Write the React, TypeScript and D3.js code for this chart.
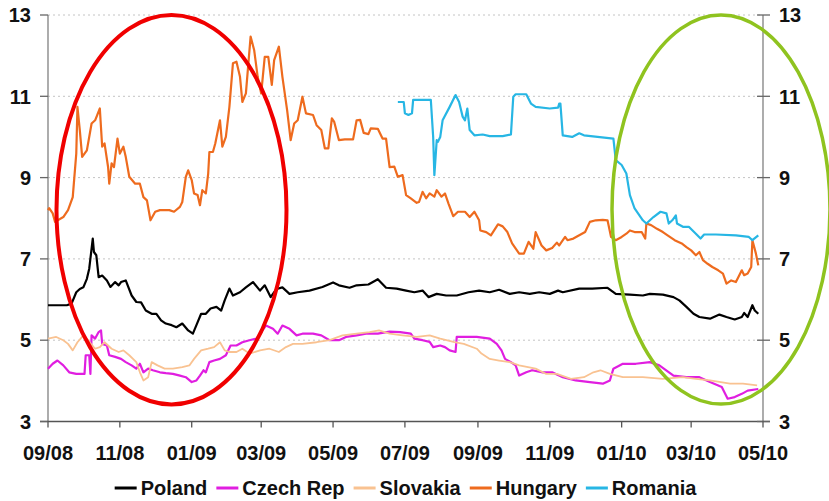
import React from "react";
import * as d3 from "d3";

type Pt = [string, number];

const tickDates: string[] = ["2008-09-01", "2008-11-01", "2009-01-01", "2009-03-01", "2009-05-01", "2009-07-01", "2009-09-01", "2009-11-01", "2010-01-01", "2010-03-01", "2010-05-01"];
const yTicks: number[] = [3, 5, 7, 9, 11, 13];
const gridValues: number[] = [5, 7, 9, 11, 13];

const poland: Pt[] = [
  ["2008-09-01", 5.86], ["2008-09-17", 5.86], ["2008-09-21", 5.9], ["2008-09-25", 6.18], ["2008-09-28", 6.26],
  ["2008-10-01", 6.3], ["2008-10-04", 6.51], ["2008-10-06", 6.76], ["2008-10-09", 7.5], ["2008-10-10", 7.17],
  ["2008-10-12", 7.09], ["2008-10-14", 6.55], ["2008-10-17", 6.59], ["2008-10-21", 6.47], ["2008-10-24", 6.31],
  ["2008-10-28", 6.43], ["2008-10-31", 6.35], ["2008-11-02", 6.43], ["2008-11-06", 6.47], ["2008-11-11", 6.1],
  ["2008-11-15", 5.94], ["2008-11-19", 5.93], ["2008-11-23", 5.73], ["2008-11-28", 5.65], ["2008-12-02", 5.65],
  ["2008-12-06", 5.49], ["2008-12-10", 5.41], ["2008-12-15", 5.37], ["2008-12-19", 5.32], ["2008-12-24", 5.41],
  ["2008-12-29", 5.24], ["2009-01-02", 5.16], ["2009-01-05", 5.37], ["2009-01-09", 5.65], ["2009-01-13", 5.65],
  ["2009-01-17", 5.78], ["2009-01-22", 5.82], ["2009-01-26", 5.73], ["2009-01-29", 5.98], ["2009-02-02", 6.27],
  ["2009-02-05", 6.1], ["2009-02-11", 6.18], ["2009-02-16", 6.3], ["2009-02-22", 6.43], ["2009-02-28", 6.22],
  ["2009-03-04", 6.35], ["2009-03-09", 6.06], ["2009-03-14", 6.26], ["2009-03-19", 6.3], ["2009-03-25", 6.14],
  ["2009-04-01", 6.18], ["2009-04-11", 6.22], ["2009-04-22", 6.31], ["2009-05-01", 6.42], ["2009-05-06", 6.35],
  ["2009-05-15", 6.29], ["2009-05-21", 6.35], ["2009-05-31", 6.37], ["2009-06-08", 6.5], ["2009-06-15", 6.29],
  ["2009-06-24", 6.27], ["2009-07-02", 6.22], ["2009-07-09", 6.18], ["2009-07-16", 6.22], ["2009-07-21", 6.06],
  ["2009-07-28", 6.14], ["2009-08-05", 6.1], ["2009-08-14", 6.1], ["2009-08-24", 6.18], ["2009-09-02", 6.22],
  ["2009-09-11", 6.18], ["2009-09-19", 6.24], ["2009-09-28", 6.14], ["2009-10-06", 6.18], ["2009-10-15", 6.14],
  ["2009-10-23", 6.18], ["2009-11-01", 6.14], ["2009-11-08", 6.22], ["2009-11-12", 6.18], ["2009-11-26", 6.27],
  ["2009-12-07", 6.27], ["2009-12-20", 6.29], ["2009-12-27", 6.14], ["2010-01-08", 6.12], ["2010-01-19", 6.1],
  ["2010-01-25", 6.14], ["2010-02-05", 6.12], ["2010-02-14", 6.06], ["2010-02-19", 5.98], ["2010-02-25", 5.82],
  ["2010-03-03", 5.65], ["2010-03-08", 5.57], ["2010-03-17", 5.53], ["2010-03-25", 5.63], ["2010-03-31", 5.57],
  ["2010-04-07", 5.51], ["2010-04-13", 5.57], ["2010-04-15", 5.67], ["2010-04-18", 5.57], ["2010-04-22", 5.86],
  ["2010-04-24", 5.73], ["2010-04-27", 5.65],
];

const czech: Pt[] = [
  ["2008-09-01", 4.3], ["2008-09-05", 4.42], ["2008-09-09", 4.5], ["2008-09-14", 4.38], ["2008-09-19", 4.21],
  ["2008-09-25", 4.17], ["2008-10-02", 4.17], ["2008-10-03", 4.63], ["2008-10-06", 4.63], ["2008-10-07", 4.17],
  ["2008-10-08", 5.12], ["2008-10-11", 5.04], ["2008-10-14", 5.2], ["2008-10-16", 5.24], ["2008-10-17", 4.91],
  ["2008-10-21", 4.87], ["2008-10-23", 4.63], ["2008-10-28", 4.59], ["2008-11-02", 4.54], ["2008-11-06", 4.46],
  ["2008-11-11", 4.38], ["2008-11-15", 4.3], ["2008-11-18", 4.42], ["2008-11-21", 4.21], ["2008-11-25", 4.3],
  ["2008-11-29", 4.26], ["2008-12-05", 4.21], ["2008-12-10", 4.19], ["2008-12-16", 4.17], ["2008-12-22", 4.13],
  ["2008-12-27", 4.09], ["2009-01-01", 3.97], ["2009-01-05", 4.01], ["2009-01-08", 4.13], ["2009-01-11", 4.26],
  ["2009-01-13", 4.21], ["2009-01-16", 4.46], ["2009-01-20", 4.5], ["2009-01-25", 4.54], ["2009-01-30", 4.63],
  ["2009-02-03", 4.87], ["2009-02-08", 4.87], ["2009-02-13", 4.95], ["2009-02-19", 5.0], ["2009-02-25", 5.04],
  ["2009-03-01", 5.2], ["2009-03-05", 5.36], ["2009-03-11", 5.28], ["2009-03-15", 5.16], ["2009-03-19", 5.36],
  ["2009-03-25", 5.28], ["2009-03-31", 5.12], ["2009-04-05", 5.16], ["2009-04-14", 5.16], ["2009-04-21", 5.12],
  ["2009-04-28", 5.0], ["2009-05-06", 5.0], ["2009-05-12", 5.08], ["2009-05-21", 5.12], ["2009-05-29", 5.16],
  ["2009-06-08", 5.16], ["2009-06-18", 5.21], ["2009-06-27", 5.2], ["2009-07-06", 5.16], ["2009-07-09", 5.04],
  ["2009-07-16", 5.0], ["2009-07-22", 4.96], ["2009-07-25", 4.83], ["2009-07-31", 4.87], ["2009-08-04", 4.83],
  ["2009-08-08", 4.75], ["2009-08-13", 4.71], ["2009-08-14", 5.08], ["2009-08-31", 5.08], ["2009-09-11", 5.04],
  ["2009-09-17", 4.91], ["2009-09-21", 4.75], ["2009-09-24", 4.54], ["2009-09-29", 4.46], ["2009-10-03", 4.38],
  ["2009-10-06", 4.13], ["2009-10-12", 4.21], ["2009-10-17", 4.26], ["2009-10-26", 4.21], ["2009-11-03", 4.21],
  ["2009-11-12", 4.09], ["2009-11-23", 4.01], ["2009-12-05", 3.97], ["2009-12-16", 3.93], ["2009-12-22", 4.01],
  ["2009-12-25", 4.3], ["2010-01-02", 4.42], ["2010-01-13", 4.42], ["2010-01-25", 4.46], ["2010-02-02", 4.38],
  ["2010-02-14", 4.13], ["2010-02-25", 4.09], ["2010-03-08", 4.09], ["2010-03-17", 3.97], ["2010-03-27", 3.85],
  ["2010-04-01", 3.56], ["2010-04-07", 3.6], ["2010-04-13", 3.68], ["2010-04-18", 3.76], ["2010-04-27", 3.8],
];

const slovakia: Pt[] = [
  ["2008-09-01", 5.04], ["2008-09-08", 5.08], ["2008-09-14", 5.0], ["2008-09-18", 4.91], ["2008-09-22", 4.75],
  ["2008-09-26", 4.95], ["2008-10-01", 5.12], ["2008-10-05", 5.0], ["2008-10-11", 4.79], ["2008-10-15", 4.83],
  ["2008-10-19", 4.95], ["2008-10-25", 4.79], ["2008-10-31", 4.71], ["2008-11-04", 4.75], ["2008-11-09", 4.63],
  ["2008-11-15", 4.46], ["2008-11-18", 4.21], ["2008-11-21", 4.01], ["2008-11-25", 4.09], ["2008-11-28", 4.46],
  ["2008-12-03", 4.38], ["2008-12-09", 4.3], ["2008-12-16", 4.3], ["2008-12-24", 4.34], ["2008-12-30", 4.38],
  ["2009-01-03", 4.54], ["2009-01-09", 4.75], ["2009-01-15", 4.79], ["2009-01-20", 4.83], ["2009-01-25", 4.95],
  ["2009-01-29", 4.75], ["2009-02-02", 4.71], ["2009-02-08", 4.71], ["2009-02-13", 4.79], ["2009-02-19", 4.67],
  ["2009-02-28", 4.75], ["2009-03-08", 4.79], ["2009-03-16", 4.71], ["2009-03-22", 4.83], ["2009-03-28", 4.91],
  ["2009-04-05", 4.91], ["2009-04-17", 4.95], ["2009-04-28", 5.0], ["2009-05-09", 5.12], ["2009-05-21", 5.16],
  ["2009-06-01", 5.2], ["2009-06-09", 5.24], ["2009-06-18", 5.16], ["2009-06-29", 5.12], ["2009-07-11", 5.08],
  ["2009-07-22", 5.12], ["2009-07-31", 5.04], ["2009-08-12", 4.95], ["2009-08-20", 4.91], ["2009-08-31", 4.79],
  ["2009-09-04", 4.67], ["2009-09-11", 4.54], ["2009-09-19", 4.5], ["2009-09-28", 4.46], ["2009-10-06", 4.38],
  ["2009-10-20", 4.3], ["2009-10-29", 4.17], ["2009-11-07", 4.17], ["2009-11-19", 4.05], ["2009-11-30", 4.09],
  ["2009-12-08", 4.21], ["2009-12-14", 4.26], ["2009-12-22", 4.17], ["2010-01-02", 4.09], ["2010-01-19", 4.09],
  ["2010-02-05", 4.05], ["2010-02-22", 4.09], ["2010-03-05", 4.05], ["2010-03-17", 4.01], ["2010-04-03", 3.93],
  ["2010-04-14", 3.93], ["2010-04-26", 3.89],
];

const hungary: Pt[] = [
  ["2008-09-01", 8.2], ["2008-09-02", 8.25], ["2008-09-05", 8.12], ["2008-09-07", 7.91], ["2008-09-14", 8.03],
  ["2008-09-18", 8.2], ["2008-09-22", 8.52], ["2008-09-25", 9.59], ["2008-09-26", 10.74], ["2008-09-28", 10.17],
  ["2008-09-30", 9.51], ["2008-10-04", 9.67], ["2008-10-08", 10.33], ["2008-10-11", 10.41], ["2008-10-15", 10.7],
  ["2008-10-17", 9.76], ["2008-10-19", 9.84], ["2008-10-22", 9.26], ["2008-10-23", 8.85], ["2008-10-25", 9.35],
  ["2008-10-27", 9.26], ["2008-10-30", 9.96], ["2008-11-01", 9.59], ["2008-11-04", 9.76], ["2008-11-06", 9.51],
  ["2008-11-09", 9.02], ["2008-11-14", 8.85], ["2008-11-18", 8.85], ["2008-11-21", 8.52], ["2008-11-24", 8.44],
  ["2008-11-27", 7.95], ["2008-12-01", 8.16], ["2008-12-05", 8.2], ["2008-12-13", 8.2], ["2008-12-17", 8.16],
  ["2008-12-22", 8.28], ["2008-12-24", 8.4], ["2008-12-27", 9.02], ["2008-12-29", 9.18], ["2009-01-01", 8.94],
  ["2009-01-03", 8.61], ["2009-01-06", 8.57], ["2009-01-08", 8.32], ["2009-01-10", 8.69], ["2009-01-13", 8.61],
  ["2009-01-15", 9.1], ["2009-01-16", 9.63], ["2009-01-19", 9.63], ["2009-01-21", 9.84], ["2009-01-25", 10.41],
  ["2009-01-27", 9.76], ["2009-01-30", 10.0], ["2009-02-02", 10.74], ["2009-02-05", 11.81], ["2009-02-08", 11.85],
  ["2009-02-11", 11.48], ["2009-02-13", 10.86], ["2009-02-16", 11.07], ["2009-02-20", 12.47], ["2009-02-23", 12.14],
  ["2009-02-26", 11.48], ["2009-03-01", 11.07], ["2009-03-04", 11.97], ["2009-03-07", 11.97], ["2009-03-10", 11.28],
  ["2009-03-12", 11.89], ["2009-03-16", 12.22], ["2009-03-19", 11.48], ["2009-03-23", 10.66], ["2009-03-26", 9.92],
  ["2009-03-29", 10.33], ["2009-04-01", 10.41], ["2009-04-05", 10.99], ["2009-04-08", 10.58], ["2009-04-14", 10.54],
  ["2009-04-17", 10.29], ["2009-04-21", 10.17], ["2009-04-24", 9.72], ["2009-04-27", 9.72], ["2009-04-30", 10.46],
  ["2009-05-02", 10.37], ["2009-05-06", 9.92], ["2009-05-11", 9.94], ["2009-05-18", 9.94], ["2009-05-21", 10.41],
  ["2009-05-24", 10.42], ["2009-05-27", 10.1], ["2009-05-31", 10.07], ["2009-06-02", 10.21], ["2009-06-08", 10.2],
  ["2009-06-12", 9.96], ["2009-06-15", 9.96], ["2009-06-18", 9.26], ["2009-06-22", 9.27], ["2009-06-25", 9.02],
  ["2009-06-29", 9.06], ["2009-07-02", 8.57], ["2009-07-06", 8.49], ["2009-07-11", 8.38], ["2009-07-13", 8.4],
  ["2009-07-16", 8.65], ["2009-07-19", 8.49], ["2009-07-22", 8.61], ["2009-07-26", 8.53], ["2009-07-28", 8.69],
  ["2009-08-01", 8.53], ["2009-08-04", 8.61], ["2009-08-07", 8.36], ["2009-08-11", 8.05], ["2009-08-15", 8.16],
  ["2009-08-21", 8.16], ["2009-08-25", 8.03], ["2009-08-29", 8.16], ["2009-09-02", 7.95], ["2009-09-03", 7.7],
  ["2009-09-08", 7.66], ["2009-09-12", 7.58], ["2009-09-18", 7.85], ["2009-09-22", 7.8], ["2009-09-26", 7.66],
  ["2009-09-30", 7.38], ["2009-10-06", 7.13], ["2009-10-10", 7.13], ["2009-10-14", 7.42], ["2009-10-18", 7.25],
  ["2009-10-20", 7.66], ["2009-10-25", 7.33], ["2009-10-29", 7.21], ["2009-11-03", 7.27], ["2009-11-07", 7.4],
  ["2009-11-09", 7.33], ["2009-11-14", 7.54], ["2009-11-16", 7.46], ["2009-11-21", 7.5], ["2009-11-26", 7.58],
  ["2009-12-01", 7.66], ["2009-12-05", 7.91], ["2009-12-10", 7.95], ["2009-12-16", 7.96], ["2009-12-20", 7.95],
  ["2009-12-23", 7.54], ["2009-12-27", 7.46], ["2010-01-01", 7.54], ["2010-01-05", 7.62], ["2010-01-08", 7.7],
  ["2010-01-12", 7.66], ["2010-01-18", 7.66], ["2010-01-21", 7.5], ["2010-01-22", 7.87], ["2010-01-26", 7.83],
  ["2010-01-31", 7.74], ["2010-02-05", 7.66], ["2010-02-09", 7.58], ["2010-02-15", 7.46], ["2010-02-21", 7.38],
  ["2010-02-25", 7.29], ["2010-03-01", 7.21], ["2010-03-05", 7.09], ["2010-03-08", 7.17], ["2010-03-11", 6.97],
  ["2010-03-15", 6.88], ["2010-03-19", 6.8], ["2010-03-24", 6.72], ["2010-03-28", 6.64], ["2010-03-31", 6.39],
  ["2010-04-04", 6.47], ["2010-04-08", 6.43], ["2010-04-13", 6.72], ["2010-04-15", 6.6], ["2010-04-18", 6.64],
  ["2010-04-21", 6.8], ["2010-04-22", 7.46], ["2010-04-25", 7.13], ["2010-04-27", 6.84],
];

const romania: Pt[] = [
  ["2009-06-25", 10.86], ["2009-06-30", 10.86], ["2009-07-01", 10.58], ["2009-07-04", 10.54], ["2009-07-07", 10.58],
  ["2009-07-08", 10.91], ["2009-07-23", 10.91], ["2009-07-25", 10.0], ["2009-07-26", 9.06], ["2009-07-28", 9.92],
  ["2009-07-29", 9.88], ["2009-07-31", 10.0], ["2009-08-02", 10.41], ["2009-08-08", 10.74], ["2009-08-13", 11.03],
  ["2009-08-16", 10.86], ["2009-08-19", 10.5], ["2009-08-21", 10.41], ["2009-08-23", 10.7], ["2009-08-25", 10.17],
  ["2009-08-29", 10.04], ["2009-09-05", 10.06], ["2009-09-11", 10.02], ["2009-09-22", 10.02], ["2009-09-29", 10.06],
  ["2009-10-01", 10.99], ["2009-10-03", 11.05], ["2009-10-12", 11.05], ["2009-10-16", 10.82], ["2009-10-20", 10.74],
  ["2009-11-01", 10.7], ["2009-11-08", 10.72], ["2009-11-09", 10.82], ["2009-11-10", 10.82], ["2009-11-12", 10.04],
  ["2009-11-20", 10.0], ["2009-11-26", 10.09], ["2009-11-30", 10.04], ["2009-12-25", 9.96], ["2009-12-27", 9.43],
  ["2010-01-01", 9.31], ["2010-01-05", 9.1], ["2010-01-08", 8.57], ["2010-01-12", 8.24], ["2010-01-19", 7.95],
  ["2010-01-22", 7.87], ["2010-01-28", 8.03], ["2010-02-03", 8.16], ["2010-02-08", 8.12], ["2010-02-10", 7.87],
  ["2010-02-13", 7.95], ["2010-02-16", 8.07], ["2010-02-17", 7.87], ["2010-02-22", 7.79], ["2010-02-27", 7.79],
  ["2010-03-05", 7.62], ["2010-03-09", 7.5], ["2010-03-12", 7.6], ["2010-03-22", 7.6], ["2010-04-08", 7.58],
  ["2010-04-19", 7.54], ["2010-04-22", 7.46], ["2010-04-27", 7.58],
];

const seriesNames: string[] = ["Poland", "Czech Rep", "Slovakia", "Hungary", "Romania"];
const seriesColors: string[] = ["#000000", "#e01ee0", "#f9c291", "#ee6b1e", "#27b6e4"];
const seriesWidths: number[] = [2.2, 2.2, 1.8, 2.2, 2.2];
const seriesData: Pt[][] = [poland, czech, slovakia, hungary, romania];

const W = 829;
const H = 501;
const left = 48;
const right = 763;
const top = 15;
const bottom = 421.5;
const FONT = "'Liberation Sans', Arial, sans-serif";

export default function App() {
  const parse = d3.timeParse("%Y-%m-%d");
  const x = d3
    .scaleTime()
    .domain([parse(tickDates[0]) as Date, parse(tickDates[tickDates.length - 1]) as Date])
    .range([left, right]);
  const y = d3.scaleLinear().domain([3, 13]).range([bottom, top]);
  const fmt = d3.timeFormat("%m/%y");
  const line = d3
    .line<Pt>()
    .x((d) => x(parse(d[0]) as Date))
    .y((d) => y(d[1]));

  // legend layout
  const legendFont = 20;
  const measure = (s: string) => {
    const w: Record<string, number> = { P: 0.667, o: 0.611, l: 0.278, a: 0.556, n: 0.611, d: 0.611, C: 0.722, z: 0.5, e: 0.556, c: 0.556, h: 0.611, " ": 0.278, R: 0.722, p: 0.611, S: 0.667, v: 0.556, k: 0.556, i: 0.278, H: 0.722, u: 0.611, g: 0.611, r: 0.389, y: 0.556, m: 0.889 };
    return s.split("").reduce((acc, ch) => acc + (w[ch] ?? 0.6), 0) * legendFont;
  };
  const lineLen = 22;
  const gapLT = 4;
  const gapItem = 9;
  const itemWidths = seriesNames.map((n) => lineLen + gapLT + measure(n));
  const total = itemWidths.reduce((a, b) => a + b, 0) + gapItem * (seriesNames.length - 1);
  let cursor = (left + right) / 2 - total / 2;
  const legendItems = seriesNames.map((n, i) => {
    const start = cursor;
    cursor += itemWidths[i] + gapItem;
    return { name: n, start, color: seriesColors[i] };
  });

  return (
    <svg width={W} height={H} style={{ position: "absolute", left: 0, top: 0, background: "#fff" }}>
      <rect x={0} y={0} width={W} height={H} fill="#fff" />
      {gridValues.map((v) => (
        <line key={"g" + v} x1={left} x2={right} y1={y(v)} y2={y(v)} stroke="#c4c4c4" strokeWidth={1} strokeDasharray="2,3" />
      ))}
      {/* axes */}
      <line x1={left} x2={left} y1={top} y2={bottom} stroke="#808080" strokeWidth={1.3} />
      <line x1={right} x2={right} y1={top} y2={bottom} stroke="#808080" strokeWidth={1.3} />
      <line x1={left - 8} x2={right + 7} y1={bottom} y2={bottom} stroke="#555" strokeWidth={1.3} />
      {yTicks.map((v) => (
        <g key={"yt" + v}>
          <line x1={left - 8} x2={left} y1={y(v)} y2={y(v)} stroke="#666" strokeWidth={1.3} />
          <line x1={right - 6} x2={right + 7} y1={y(v)} y2={y(v)} stroke="#666" strokeWidth={1.3} />
          <text x={31} y={y(v)} dy="0.36em" textAnchor="end" fontFamily={FONT} fontWeight="bold" fontSize={20} fill="#111">
            {v}
          </text>
          <text x={779} y={y(v)} dy="0.36em" textAnchor="start" fontFamily={FONT} fontWeight="bold" fontSize={20} fill="#111">
            {v}
          </text>
        </g>
      ))}
      {tickDates.map((t) => {
        const xx = x(parse(t) as Date);
        return (
          <g key={"xt" + t}>
            <line x1={xx} x2={xx} y1={bottom} y2={bottom + 6} stroke="#555" strokeWidth={1.3} />
            <text x={xx} y={460} textAnchor="middle" fontFamily={FONT} fontWeight="bold" fontSize={20} fill="#111">
              {fmt(parse(t) as Date)}
            </text>
          </g>
        );
      })}
      {/* series */}
      {seriesData.map((data, i) => (
        <path key={"s" + i} d={line(data) || ""} fill="none" stroke={seriesColors[i]} strokeWidth={seriesWidths[i]} strokeLinejoin="round" />
      ))}
      {/* annotation ellipses */}
      <ellipse cx={171.5} cy={209.7} rx={115} ry={194.7} fill="none" stroke="#f00000" strokeWidth={4} />
      <ellipse cx={721} cy={209.5} rx={109} ry={194.5} fill="none" stroke="#8fc31f" strokeWidth={3.5} />
      {/* legend */}
      {legendItems.map((it) => (
        <g key={"l" + it.name}>
          <line x1={it.start} x2={it.start + lineLen} y1={488} y2={488} stroke={it.color} strokeWidth={3} />
          <text x={it.start + lineLen + gapLT} y={495} fontFamily={FONT} fontWeight="bold" fontSize={legendFont} fill="#111">
            {it.name}
          </text>
        </g>
      ))}
    </svg>
  );
}
